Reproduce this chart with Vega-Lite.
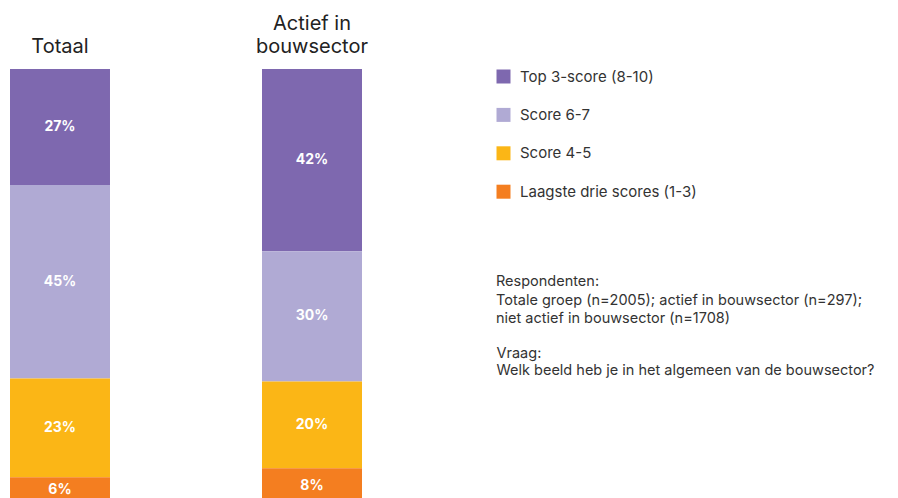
{
  "$schema": "https://vega.github.io/schema/vega-lite/v6.json",
  "autosize": {"type": "none"},
  "padding": {"top": 69, "left": 0, "right": 0, "bottom": 0},
  "width": 898,
  "height": 434,
  "background": "white",
  "config": {"view": {"stroke": null}, "font": "Inter"},
  "title": {
    "text": "Respondenten:",
    "subtitle": ["Totale groep (n=2005); actief in bouwsector (n=297);", "niet actief in bouwsector (n=1708)"],
    "orient": "top",
    "anchor": "start",
    "frame": "group",
    "baseline": "top",
    "offset": 0,
    "dx": 496,
    "dy": 313,
    "fontSize": 14.5,
    "fontWeight": "normal",
    "lineHeight": 17.5,
    "color": "#333333",
    "font": "Inter",
    "subtitleFontSize": 14.5,
    "subtitleFont": "Inter",
    "subtitleColor": "#333333",
    "subtitleLineHeight": 17.5,
    "subtitlePadding": 5
  },
  "data": {
    "values": [
      {"group": "Totaal", "category": "Top 3-score (8-10)", "order": 4, "value": 0.27},
      {"group": "Totaal", "category": "Score 6-7", "order": 3, "value": 0.45},
      {"group": "Totaal", "category": "Score 4-5", "order": 2, "value": 0.23},
      {"group": "Totaal", "category": "Laagste drie scores (1-3)", "order": 1, "value": 0.06},
      {"group": "Actief in bouwsector", "category": "Top 3-score (8-10)", "order": 4, "value": 0.42},
      {"group": "Actief in bouwsector", "category": "Score 6-7", "order": 3, "value": 0.30},
      {"group": "Actief in bouwsector", "category": "Score 4-5", "order": 2, "value": 0.20},
      {"group": "Actief in bouwsector", "category": "Laagste drie scores (1-3)", "order": 1, "value": 0.08}
    ]
  },
  "transform": [
    {"stack": "value", "groupby": ["group"], "sort": [{"field": "order", "order": "ascending"}], "offset": "normalize", "as": ["lo", "hi"]},
    {"calculate": "(datum.lo + datum.hi) / 2", "as": "mid"}
  ],
  "resolve": {"axis": {"x": "independent"}},
  "layer": [
    {
      "mark": {"type": "bar"},
      "encoding": {
        "x": {
          "field": "group",
          "type": "nominal",
          "sort": ["Totaal", "Actief in bouwsector"],
          "scale": {"range": [10, 362], "paddingInner": 0.6032, "paddingOuter": 0},
          "axis": {
            "orient": "top",
            "title": null,
            "domain": false,
            "ticks": false,
            "grid": false,
            "labelAngle": 0,
            "labelFontSize": 20,
            "labelFont": "Inter",
            "labelColor": "#222222",
            "labelPadding": 17,
            "labelBaseline": "alphabetic",
            "labelExpr": "datum.value == 'Actief in bouwsector' ? 'bouwsector' : datum.value"
          }
        },
        "y": {"field": "lo", "type": "quantitative", "scale": {"domain": [0, 1]}, "axis": null},
        "y2": {"field": "hi"},
        "color": {
          "field": "category",
          "type": "nominal",
          "scale": {
            "domain": ["Top 3-score (8-10)", "Score 6-7", "Score 4-5", "Laagste drie scores (1-3)"],
            "range": ["#7E68AF", "#B0AAD4", "#FBB616", "#F47E20"]
          },
          "legend": {
            "title": null,
            "orient": "none",
            "legendX": 496,
            "legendY": 0,
            "padding": 0,
            "symbolType": "square",
            "symbolSize": 196,
            "symbolStrokeWidth": 0,
            "symbolOpacity": 1,
            "rowPadding": 22.4,
            "labelOffset": 9,
            "labelFontSize": 15,
            "labelFont": "Inter",
            "labelColor": "#333333",
            "labelLimit": 400
          }
        }
      }
    },
    {
      "mark": {"type": "text", "color": "white", "fontWeight": "bold", "fontSize": 14, "font": "Inter", "baseline": "middle"},
      "encoding": {
        "x": {
          "field": "group",
          "type": "nominal",
          "sort": ["Totaal", "Actief in bouwsector"],
          "axis": {
            "orient": "top",
            "domain": false,
            "ticks": false,
            "grid": false,
            "labelAngle": 0,
            "labelFontSize": 20,
            "labelFont": "Inter",
            "labelColor": "#222222",
            "labelPadding": 40,
            "labelBaseline": "alphabetic",
            "labelExpr": "datum.value == 'Actief in bouwsector' ? 'Actief in' : ''",
            "title": ["Vraag:", "Welk beeld heb je in het algemeen van de bouwsector?"],
            "titleX": 496,
            "titleY": 288,
            "titleAlign": "left",
            "titleAnchor": "start",
            "titleAngle": 0,
            "titleBaseline": "alphabetic",
            "titleFont": "Inter",
            "titleFontSize": 14.5,
            "titleFontWeight": "normal",
            "titleColor": "#333333",
            "titleLineHeight": 17.5
          }
        },
        "y": {"field": "mid", "type": "quantitative", "scale": {"domain": [0, 1]}},
        "text": {"field": "value", "type": "quantitative", "format": ".0%"}
      }
    }
  ]
}
